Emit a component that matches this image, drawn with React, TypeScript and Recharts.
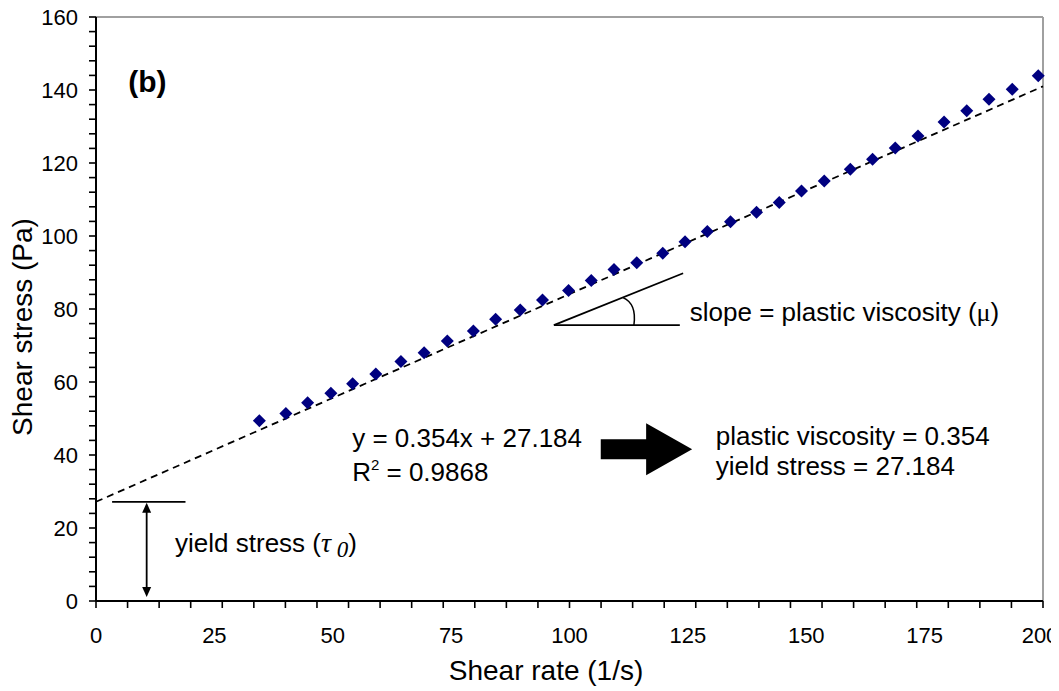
import * as React from "react"
import {
  ComposedChart,
  Line,
  Scatter,
  XAxis,
  YAxis,
  ReferenceLine,
  ReferenceDot,
  Label,
} from "recharts"

// measured flow curve
const shearRate = [
  34.5, 40.1, 44.7, 49.6, 54.2, 59.1, 64.4, 69.3, 74.2, 79.7, 84.4, 89.6, 94.3, 99.8, 104.6, 109.4, 114.2,
  119.7, 124.4, 129.1, 134.0, 139.5, 144.3, 149.0, 153.8, 159.3, 164.0, 168.8, 173.6, 179.1, 183.9, 188.6,
  193.5, 199.0,
]
const shearStress = [
  49.4, 51.4, 54.3, 56.9, 59.5, 62.2, 65.6, 68.0, 71.2, 74.0, 77.2, 79.7, 82.5, 85.1, 87.8, 90.8, 92.7,
  95.3, 98.4, 101.2, 103.9, 106.5, 109.2, 112.3, 115.1, 118.3, 121.0, 124.1, 127.4, 131.2, 134.3, 137.5,
  140.2, 143.9,
]

// Bingham fit line, drawn across the full axis
const trendRate = [0, 200]
const trendStress = [27.184, 141.0]

const yieldStress = 27.184

// axis ticks
const xLabelTicks = [0, 25, 50, 75, 100, 125, 150, 175, 200]
const xMinorTicks = Array.from({ length: 31 }, (_, i) => (i * 200) / 30)
const yTicks = Array.from({ length: 41 }, (_, i) => i * 4)

const points = shearRate.map((x, i) => ({ x, y: shearStress[i] }))
const trend = trendRate.map((x, i) => ({ x, y: trendStress[i] }))
const xTicks = [...xMinorTicks, ...xLabelTicks]
  .filter((v, i, arr) => arr.findIndex((w) => Math.abs(w - v) < 1e-6) === i)
  .sort((a, b) => a - b)

const FONT = "'Liberation Sans', Arial, sans-serif"
const SERIF = "'Liberation Serif', 'Times New Roman', serif"

const Diamond = (p: any) => {
  const { cx, cy } = p
  const r = 6.5
  return <path d={`M${cx} ${cy - r}L${cx + r} ${cy}L${cx} ${cy + r}L${cx - r} ${cy}Z`} fill="#000080" />
}

const XTick = (p: any) => {
  const { x, y, payload } = p
  const v = payload.value
  const minor = xMinorTicks.some((m) => Math.abs(m - v) < 1e-6)
  const labelled = xLabelTicks.some((m) => Math.abs(m - v) < 1e-6)
  // last label is nudged in so it stays on the page
  const tx = v === 200 ? x - 3 : x
  return (
    <g>
      {minor && <line x1={x} x2={x} y1={y} y2={y + 7} stroke="#000" strokeWidth={1.6} />}
      {labelled && (
        <text x={tx} y={y + 26} dy="0.71em" textAnchor="middle" fontSize={22} fontFamily={FONT} fill="#000">
          {v}
        </text>
      )}
    </g>
  )
}

// double headed arrow for the yield stress span
const DoubleArrow = (p: any) => {
  const { x1, y1, x2, y2 } = p
  const top = Math.min(y1, y2)
  const bot = Math.max(y1, y2)
  return (
    <g>
      <line x1={x1} x2={x2} y1={top + 8} y2={bot - 8} stroke="#000" strokeWidth={1.8} />
      <path d={`M${x1} ${top + 1}L${x1 + 4.5} ${top + 11}L${x1 - 4.5} ${top + 11}Z`} fill="#000" />
      <path d={`M${x1} ${bot - 4}L${x1 + 4.5} ${bot - 14}L${x1 - 4.5} ${bot - 14}Z`} fill="#000" />
    </g>
  )
}

// fat block arrow between the fit equation and the result
const BlockArrow = (p: any) => {
  const { x1, y1, x2 } = p
  const headLen = 46
  const body = 10
  const head = 26
  const hx = x2 - headLen
  return (
    <path
      d={`M${x1} ${y1 - body}L${hx} ${y1 - body}L${hx} ${y1 - head}L${x2} ${y1}L${hx} ${y1 + head}L${hx} ${y1 + body}L${x1} ${y1 + body}Z`}
      fill="#000"
    />
  )
}

// angle mark on the slope triangle
const Arc = (p: any) => {
  const { x1, y1, x2, y2 } = p
  return <path d={`M${x1} ${y1}Q${x2 + 3} ${y1 + 6} ${x2} ${y2}`} fill="none" stroke="#000" strokeWidth={1.5} />
}

const textAt = (content: React.ReactNode, size = 26, weight: any = "normal") => (p: any) => (
  <text x={p.cx} y={p.cy} fontSize={size} fontWeight={weight} fontFamily={FONT} fill="#000">
    {content}
  </text>
)

export default function App() {
  return (
    <ComposedChart
      width={1051}
      height={683}
      margin={{ top: 9, right: 16, left: 0, bottom: 0 }}
      style={{ overflow: "visible" }}
    >
      <XAxis
        type="number"
        dataKey="x"
        domain={[0, 200]}
        ticks={xTicks}
        interval={0}
        tickSize={0}
        tickMargin={0}
        tickLine={false}
        tick={<XTick />}
        axisLine={{ stroke: "#000", strokeWidth: 2 }}
        height={90}
      >
        <Label
          content={() => (
            <text x={538} y={672} textAnchor="middle" fontSize={28} fontFamily={FONT} fill="#000">
              Shear rate (1/s)
            </text>
          )}
        />
      </XAxis>
      <YAxis
        type="number"
        domain={[0, 160]}
        ticks={yTicks}
        interval={0}
        width={88}
        tickSize={7}
        tickMargin={11}
        tickFormatter={(v: number) => (v % 20 === 0 ? String(v) : "")}
        tick={{ fill: "#000", fontSize: 22, fontFamily: FONT }}
        tickLine={{ stroke: "#000", strokeWidth: 1.6 }}
        axisLine={{ stroke: "#000", strokeWidth: 2 }}
      >
        <Label
          content={() => (
            <text
              x={14}
              y={319}
              transform="rotate(-90 14 319)"
              textAnchor="middle"
              dy="0.35em"
              fontSize={28}
              fontFamily={FONT}
              fill="#000"
            >
              Shear stress (Pa)
            </text>
          )}
        />
      </YAxis>

      {/* plot frame top and right */}
      <ReferenceLine y={160} stroke="#a0a0a0" strokeWidth={2} />
      <ReferenceLine x={200} stroke="#a0a0a0" strokeWidth={2} />

      <Line
        data={trend}
        dataKey="y"
        type="linear"
        stroke="#000"
        strokeWidth={1.8}
        strokeDasharray="7 5"
        dot={false}
        activeDot={false}
        isAnimationActive={false}
      />
      <Scatter data={points} dataKey="y" shape={Diamond} isAnimationActive={false} />

      {/* yield stress marker */}
      <ReferenceLine
        segment={[
          { x: 3.4, y: yieldStress },
          { x: 18.9, y: yieldStress },
        ]}
        stroke="#000"
        strokeWidth={1.8}
      />
      <ReferenceLine
        segment={[
          { x: 10.7, y: yieldStress },
          { x: 10.7, y: 0 },
        ]}
        shape={DoubleArrow}
      />

      {/* slope triangle */}
      <ReferenceLine
        segment={[
          { x: 96.7, y: 75.6 },
          { x: 123.3, y: 75.6 },
        ]}
        stroke="#000"
        strokeWidth={1.8}
      />
      <ReferenceLine
        segment={[
          { x: 96.7, y: 75.6 },
          { x: 124.0, y: 89.8 },
        ]}
        stroke="#000"
        strokeWidth={1.8}
      />
      <ReferenceLine
        segment={[
          { x: 111.3, y: 83.1 },
          { x: 113.6, y: 75.6 },
        ]}
        shape={Arc}
      />

      <ReferenceLine
        segment={[
          { x: 106.6, y: 41.6 },
          { x: 125.9, y: 41.6 },
        ]}
        shape={BlockArrow}
      />

      <ReferenceDot x={6.8} y={142.2} r={0} shape={(p: any) => (
        <text x={p.cx} y={p.cy} dy="0.35em" fontSize={30} fontWeight="bold" fontFamily={FONT} fill="#000">
          (b)
        </text>
      )} />
      <ReferenceDot
        x={125.4}
        y={76.7}
        r={0}
        shape={textAt(
          <>
            slope = plastic viscosity (<tspan fontFamily={SERIF}>μ</tspan>)
          </>
        )}
      />
      <ReferenceDot x={54.1} y={42.3} r={0} shape={textAt("y = 0.354x + 27.184")} />
      <ReferenceDot
        x={54.1}
        y={32.9}
        r={0}
        shape={textAt(
          <>
            R<tspan dy={-11} fontSize={15}>2</tspan>
            <tspan dy={11}> = 0.9868</tspan>
          </>
        )}
      />
      <ReferenceDot x={130.9} y={42.7} r={0} shape={textAt("plastic viscosity = 0.354")} />
      <ReferenceDot x={130.9} y={34.6} r={0} shape={textAt("yield stress = 27.184")} />
      <ReferenceDot
        x={16.7}
        y={13.5}
        r={0}
        shape={textAt(
          <>
            yield stress (
            <tspan fontFamily={SERIF} fontStyle="italic" fontSize={28}>
              τ
            </tspan>
            <tspan fontFamily={SERIF} fontStyle="italic" fontSize={23} dy={5}>
              {" "}0
            </tspan>
            <tspan dy={-5}>)</tspan>
          </>
        )}
      />
    </ComposedChart>
  )
}
